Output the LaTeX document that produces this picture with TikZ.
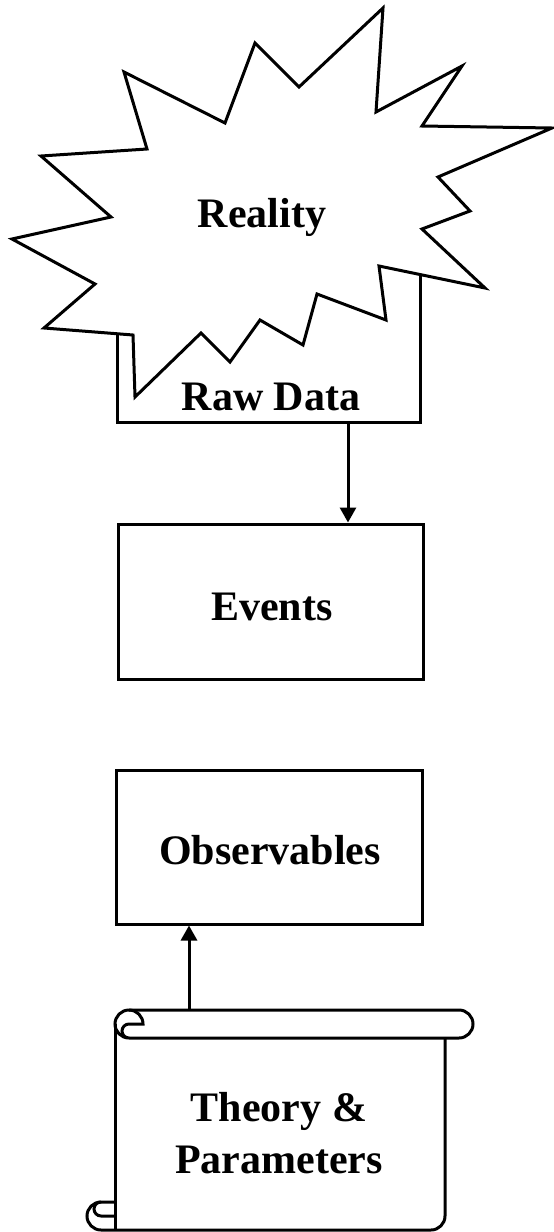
\documentclass[tikz,border=0pt]{standalone}
\usepackage{fontspec}
\setmainfont{Liberation Serif}
\usetikzlibrary{arrows.meta,calc}
\tikzset{
  ln/.style={line width=3pt, line join=miter, black},
  boxnode/.style={ln, draw, rectangle, inner sep=0pt},
  lbl/.style={font=\fontsize{42}{52}\selectfont\bfseries, inner sep=0pt},
  arr/.style={ln, -{Triangle[width=16pt,length=15pt]}}
}
\begin{document}
\begin{tikzpicture}[x=1pt,y=-1pt]
\useasboundingbox (0,0) rectangle (554,1232);
% Raw data box (behind the starburst)
\node[boxnode, minimum width=303, minimum height=162] (rawbox) at (268.5,341) {};
% Starburst "Reality"
\draw[ln, fill=white] (383,8) -- (376,112) -- (462,66) -- (422,126) -- (552,128)
  -- (438,177) -- (470,211) -- (422,229) -- (485,288) -- (379,266) -- (386,320)
  -- (317,294) -- (303,345) -- (260,320) -- (230,362) -- (201,333) -- (135,397)
  -- (133,335) -- (44,328) -- (95,284) -- (12,239) -- (111,217) -- (41,156)
  -- (147,149) -- (124,72) -- (225,123) -- (255,43) -- (299,87) -- cycle;
\node[lbl, anchor=base] (reality) at (262,227) {Reality};
\node[lbl, anchor=base] (rawdata) at (271,410) {Raw Data};
% Events
\node[boxnode, minimum width=305, minimum height=155] (events) at (270.5,601.5) {};
\node[lbl, anchor=base] (eventstxt) at (272,620) {Events};
% Observables
\node[boxnode, minimum width=306, minimum height=154] (observables) at (269,847) {};
\node[lbl, anchor=base] (obstxt) at (270,864) {Observables};
% Scroll "Theory & Parameters"
\begin{scope}[ln]
  \draw (129,1038) arc[start angle=90,end angle=360,radius=14] -- (129,1024)
        arc[start angle=-90,end angle=-270,radius=7];
  \draw (129,1010) -- (459,1010) arc[start angle=-90,end angle=90,radius=14] -- (129,1038);
  \draw (115,1024) -- (115,1230);
  \draw (445,1038) -- (445,1216) arc[start angle=0,end angle=90,radius=14] -- (101,1230);
  \draw (101,1230) arc[start angle=90,end angle=270,radius=14] -- (115,1202);
  \draw (115,1216) -- (101,1216) arc[start angle=90,end angle=270,radius=7];
\end{scope}
\node[lbl, align=center] (theory) at (279,1133) {Theory \&\\Parameters};
% Connectors
\coordinate (a1) at (348,422);
\draw[arr] (a1) -- (a1 |- events.north);
\coordinate (s1) at (189,1010);
\draw[arr] (s1) -- (s1 |- observables.south);
\end{tikzpicture}
\end{document}
